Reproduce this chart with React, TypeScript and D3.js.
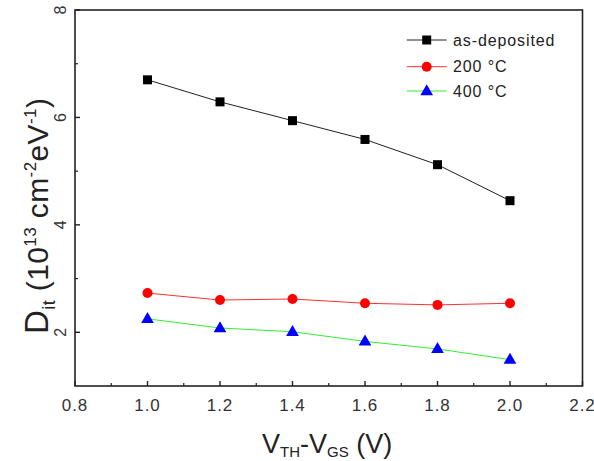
import * as d3 from "d3";

// data
const xVals = [1.0, 1.2, 1.4, 1.6, 1.8, 2.0];
const asDeposited = [6.7, 6.29, 5.94, 5.59, 5.12, 4.45];
const c200 = [2.73, 2.6, 2.62, 2.54, 2.51, 2.54];
const c400 = [2.25, 2.08, 2.01, 1.83, 1.69, 1.49];
const xTicks = [0.8, 1.0, 1.2, 1.4, 1.6, 1.8, 2.0, 2.2];
const yTicks = [2, 4, 6, 8];
const seriesNames = ["as-deposited", "200 °C", "400 °C"];

const FONT = "'Liberation Sans', Arial, sans-serif";

const left = 75, right = 582.5, top = 10, bottom = 386;
const x = d3.scaleLinear().domain([0.8, 2.2]).range([left, right]);
const y = d3.scaleLinear().domain([1, 8]).range([bottom, top]);

const series = [
  { name: seriesNames[0], values: asDeposited, line: "#222", fill: "#000", shape: "square" },
  { name: seriesNames[1], values: c200, line: "#ff3030", fill: "#ff0000", shape: "circle" },
  { name: seriesNames[2], values: c400, line: "#33ee33", fill: "#0000ff", shape: "triangle" },
];

function Marker({ cx, cy, shape, fill }: { cx: number; cy: number; shape: string; fill: string }) {
  if (shape === "square") return <rect x={cx - 4.5} y={cy - 4.5} width={9} height={9} fill={fill} />;
  if (shape === "circle") return <circle cx={cx} cy={cy} r={5} fill={fill} />;
  const p = d3.symbol(d3.symbolTriangle, 70)();
  return <path d={p || ""} transform={`translate(${cx},${cy + 0.5})`} fill={fill} />;
}

export default function App() {
  const line = d3.line<number>().x((_, i) => x(xVals[i])).y((d) => y(d));
  const minorX = d3.range(0.9, 2.2, 0.2);
  const minorY = [3, 5, 7];

  return (
    <svg width={594} height={461} style={{ position: "absolute", left: 0, top: 0, background: "#fff" }} fontFamily={FONT}>
      {/* data */}
      {series.map((s) => (
        <g key={s.name}>
          <path d={line(s.values) || ""} fill="none" stroke={s.line} strokeWidth={1} />
          {s.values.map((v, i) => (
            <Marker key={i} cx={x(xVals[i])} cy={y(v)} shape={s.shape} fill={s.fill} />
          ))}
        </g>
      ))}

      {/* frame */}
      <rect x={left} y={top} width={right - left} height={bottom - top} fill="none" stroke="#222" strokeWidth={1.6} />

      {/* x ticks, inward */}
      {xTicks.map((t) => (
        <g key={t}>
          <line x1={x(t)} x2={x(t)} y1={bottom} y2={bottom - 5} stroke="#222" strokeWidth={1.4} />
          <text x={x(t)} y={411} textAnchor="middle" fontSize={17} letterSpacing={1} fill="#333">
            {t.toFixed(1)}
          </text>
        </g>
      ))}
      {minorX.map((t) => (
        <line key={t} x1={x(t)} x2={x(t)} y1={bottom} y2={bottom - 3} stroke="#222" strokeWidth={1.2} />
      ))}

      {/* y ticks, inward, rotated labels */}
      {yTicks.map((t) => (
        <g key={t}>
          <line x1={left} x2={left + 5} y1={y(t)} y2={y(t)} stroke="#222" strokeWidth={1.4} />
          <text transform={`translate(66,${y(t)}) rotate(-90)`} textAnchor="middle" fontSize={16} fill="#333">
            {t}
          </text>
        </g>
      ))}
      {minorY.map((t) => (
        <line key={t} x1={left} x2={left + 3} y1={y(t)} y2={y(t)} stroke="#222" strokeWidth={1.2} />
      ))}

      {/* x title */}
      <text x={262} y={453} fontSize={27} fill="#222">
        V<tspan fontSize={15} dy={4}>TH</tspan>
        <tspan dy={-4}>-V</tspan>
        <tspan fontSize={15} dy={4}>GS</tspan>
        <tspan dy={-4}> (V)</tspan>
      </text>

      {/* y title */}
      <text transform="translate(48,334) rotate(-90)" fontSize={33} letterSpacing={0.4} fill="#222">
        D<tspan fontSize={18} dy={7}>it</tspan>
        <tspan fontSize={30} dy={-7}> (10</tspan>
        <tspan fontSize={17} dy={-12}>13</tspan>
        <tspan fontSize={30} dy={12}> cm</tspan>
        <tspan fontSize={17} dy={-12}>-2</tspan>
        <tspan fontSize={30} dy={12}>eV</tspan>
        <tspan fontSize={17} dy={-12}>-1</tspan>
        <tspan fontSize={30} dy={12}>)</tspan>
      </text>

      {/* legend */}
      {series.map((s, i) => {
        const ly = [40, 66.7, 91][i];
        return (
          <g key={s.name}>
            <line x1={406.7} x2={446.7} y1={ly} y2={ly} stroke={s.line} strokeWidth={1} />
            <Marker cx={426.7} cy={ly} shape={s.shape} fill={s.fill} />
            <text x={453} y={ly + 5.5} fontSize={16} letterSpacing={0.9} fill="#222">
              {s.name}
            </text>
          </g>
        );
      })}
    </svg>
  );
}
